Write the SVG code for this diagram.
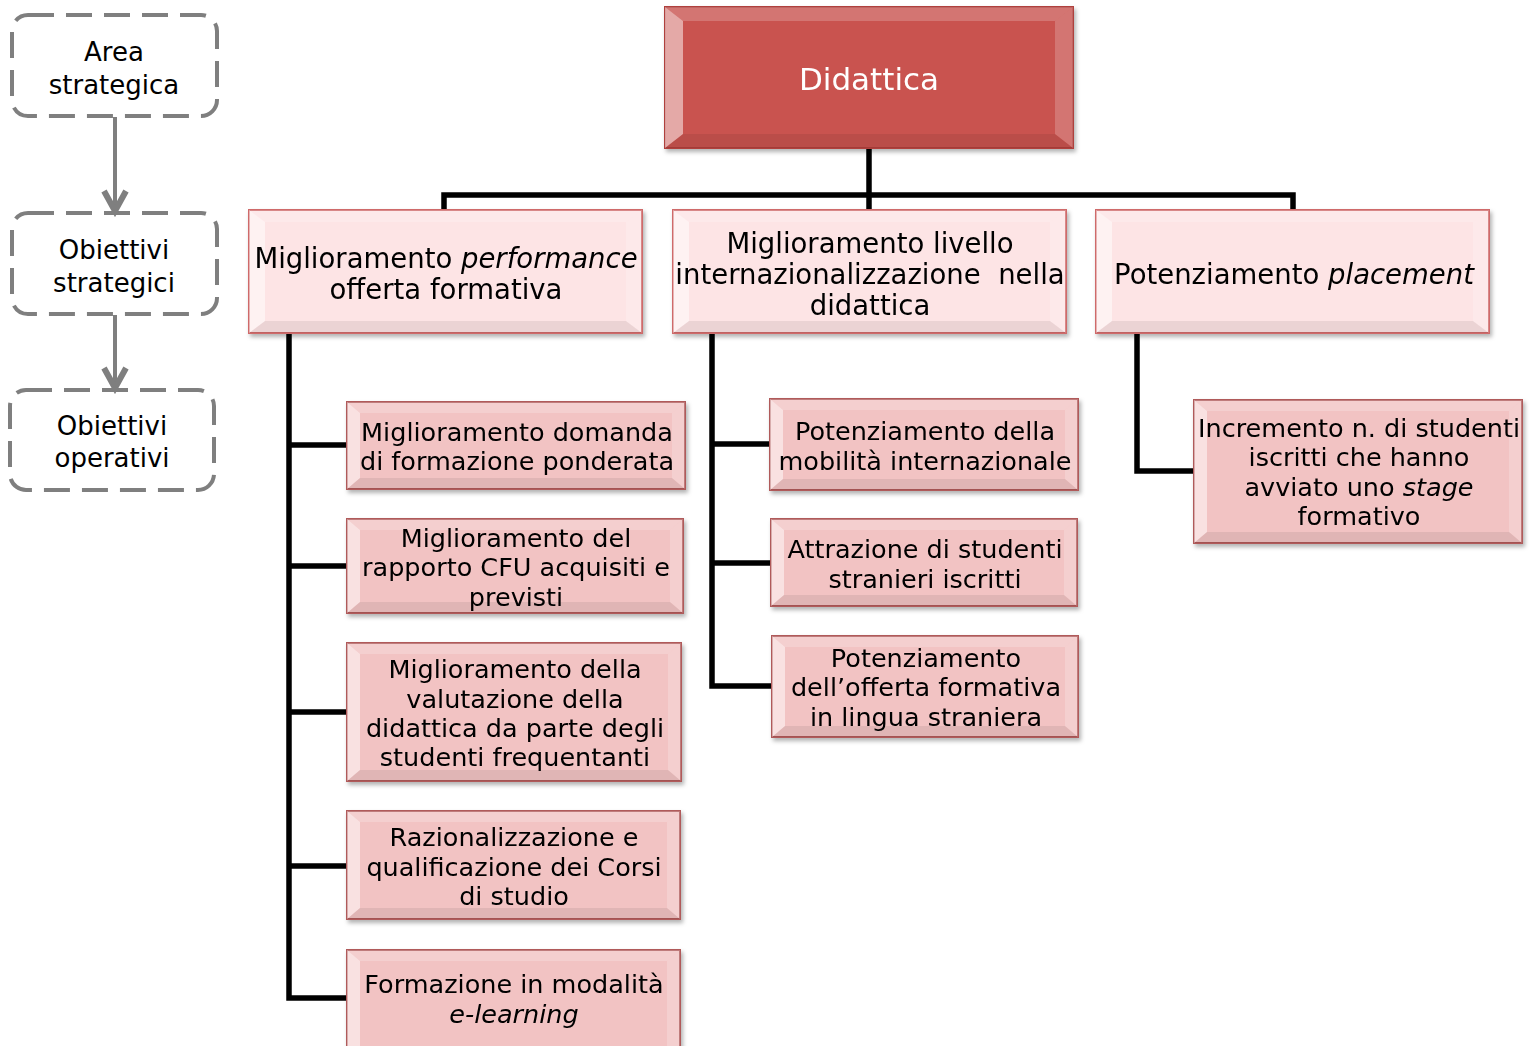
<svg xmlns="http://www.w3.org/2000/svg" width="1531" height="1046" viewBox="0 0 1531 1046">
<defs>
<filter id="sh" x="-5%" y="-5%" width="115%" height="120%">
<feDropShadow dx="2" dy="3" stdDeviation="2" flood-color="#000" flood-opacity="0.3"/>
</filter>
<marker id="chev" viewBox="-26 -14 30 28" markerWidth="30" markerHeight="28" refX="0" refY="0" orient="auto" markerUnits="userSpaceOnUse">
<path d="M-22,-11 L-2,0 L-22,11" fill="none" stroke="#7f7f7f" stroke-width="6" stroke-linejoin="miter"/>
</marker>
</defs>
<style>
.leg{fill:#fff;stroke:#7f7f7f;stroke-width:4;stroke-dasharray:26 12}
.lt{font-family:"DejaVu Sans",sans-serif;font-size:26px;fill:#000;text-anchor:middle}
.t1{font-family:"DejaVu Sans",sans-serif;font-size:31px;fill:#fff;text-anchor:middle}
.t2{font-family:"DejaVu Sans",sans-serif;font-size:27.5px;fill:#000;text-anchor:middle}
.t3{font-family:"DejaVu Sans",sans-serif;font-size:25.5px;fill:#000;text-anchor:middle}
.i{font-style:italic}
.b1{fill:#c9534f;stroke:#b0403d;stroke-width:2}
.b2{fill:#fde4e5;stroke:#cf6b6b;stroke-width:2}
.b3{fill:#f2c3c3;stroke:#b05a5a;stroke-width:2}
.hl{fill:#fff;opacity:0.5}
.ht{fill:#fff;opacity:0.2}
.hr{fill:#fff;opacity:0.2}
.hb{fill:#000;opacity:0.07}
.con{fill:none;stroke:#000;stroke-width:5.5;stroke-linejoin:miter}
.arr{stroke:#7f7f7f;stroke-width:4;fill:none}
</style>
<rect width="1531" height="1046" fill="#fff"/>

<g id="legend">
<g id="leg-area"><rect class="leg" x="12" y="15" width="205" height="101" rx="16"/><text class="lt" x="114" y="61">Area</text><text class="lt" x="114" y="94">strategica</text></g>
<g id="leg-strat"><rect class="leg" x="12" y="213" width="205" height="101" rx="16"/><text class="lt" x="114" y="259">Obiettivi</text><text class="lt" x="114" y="292">strategici</text></g>
<g id="leg-oper"><rect class="leg" x="10" y="390" width="204" height="100" rx="16"/><text class="lt" x="112" y="435">Obiettivi</text><text class="lt" x="112" y="467">operativi</text></g>
<line class="arr" x1="115" y1="117" x2="115" y2="213" marker-end="url(#chev)"/>
<line class="arr" x1="115" y1="315" x2="115" y2="390" marker-end="url(#chev)"/>
</g>

<g id="connectors">
<path class="con" d="M869,148 V210 M444,210 V195 H1293 V210"/>
<path class="con" d="M289,334 V998 H347 M289,445 H347 M289,566 H347 M289,712 H347 M289,866 H347"/>
<path class="con" d="M712,334 V686 H772 M712,444 H770 M712,563 H771"/>
<path class="con" d="M1137,334 V471 H1194"/>
</g>

<g id="n-didattica" filter="url(#sh)">
<rect class="b1" x="665" y="7" width="408" height="141"/>
<polygon class="ht" points="665,7 1073,7 1055,21 683,21"/>
<polygon class="hl" points="665,7 683,21 683,134 665,148"/>
<polygon class="hr" points="1073,7 1073,148 1055,134 1055,21"/>
<polygon class="hb" points="665,148 683,134 1055,134 1073,148"/>
<text class="t1" x="869" y="90">Didattica</text>
</g>

<g id="n-perf" filter="url(#sh)">
<rect class="b2" x="249" y="210" width="393" height="123"/>
<polygon class="ht" points="249,210 642,210 626,222 265,222"/>
<polygon class="hl" points="249,210 265,222 265,321 249,333"/>
<polygon class="hr" points="642,210 642,333 626,321 626,222"/>
<polygon class="hb" points="249,333 265,321 626,321 642,333"/>
<text class="t2" x="446" y="268">Miglioramento <tspan class="i">performance</tspan></text>
<text class="t2" x="446" y="299">offerta formativa</text>
</g>

<g id="n-intern" filter="url(#sh)">
<rect class="b2" x="673" y="210" width="393" height="123"/>
<polygon class="ht" points="673,210 1066,210 1050,222 689,222"/>
<polygon class="hl" points="673,210 689,222 689,321 673,333"/>
<polygon class="hr" points="1066,210 1066,333 1050,321 1050,222"/>
<polygon class="hb" points="673,333 689,321 1050,321 1066,333"/>
<text class="t2" x="870" y="253">Miglioramento livello</text>
<text class="t2" x="870" y="284" xml:space="preserve">internazionalizzazione  nella</text>
<text class="t2" x="870" y="315">didattica</text>
</g>

<g id="n-placement" filter="url(#sh)">
<rect class="b2" x="1096" y="210" width="393" height="123"/>
<polygon class="ht" points="1096,210 1489,210 1473,222 1112,222"/>
<polygon class="hl" points="1096,210 1112,222 1112,321 1096,333"/>
<polygon class="hr" points="1489,210 1489,333 1473,321 1473,222"/>
<polygon class="hb" points="1096,333 1112,321 1473,321 1489,333"/>
<text class="t2" x="1294" y="284">Potenziamento <tspan class="i">placement</tspan></text>
</g>

<g id="n-a1" filter="url(#sh)">
<rect class="b3" x="347" y="402" width="338" height="87"/>
<polygon class="ht" points="347,402 685,402 672,413 360,413"/>
<polygon class="hl" points="347,402 360,413 360,478 347,489"/>
<polygon class="hr" points="685,402 685,489 672,478 672,413"/>
<polygon class="hb" points="347,489 360,478 672,478 685,489"/>
<text class="t3" x="517" y="441">Miglioramento domanda</text>
<text class="t3" x="517" y="470">di formazione ponderata</text>
</g>

<g id="n-a2" filter="url(#sh)">
<rect class="b3" x="347" y="519" width="336" height="94"/>
<polygon class="ht" points="347,519 683,519 670,530 360,530"/>
<polygon class="hl" points="347,519 360,530 360,602 347,613"/>
<polygon class="hr" points="683,519 683,613 670,602 670,530"/>
<polygon class="hb" points="347,613 360,602 670,602 683,613"/>
<text class="t3" x="516" y="547">Miglioramento del</text>
<text class="t3" x="516" y="576">rapporto CFU acquisiti e</text>
<text class="t3" x="516" y="606">previsti</text>
</g>

<g id="n-a3" filter="url(#sh)">
<rect class="b3" x="347" y="643" width="334" height="138"/>
<polygon class="ht" points="347,643 681,643 668,654 360,654"/>
<polygon class="hl" points="347,643 360,654 360,770 347,781"/>
<polygon class="hr" points="681,643 681,781 668,770 668,654"/>
<polygon class="hb" points="347,781 360,770 668,770 681,781"/>
<text class="t3" x="515" y="678">Miglioramento della</text>
<text class="t3" x="515" y="708">valutazione della</text>
<text class="t3" x="515" y="737">didattica da parte degli</text>
<text class="t3" x="515" y="766">studenti frequentanti</text>
</g>

<g id="n-a4" filter="url(#sh)">
<rect class="b3" x="347" y="811" width="333" height="108"/>
<polygon class="ht" points="347,811 680,811 667,822 360,822"/>
<polygon class="hl" points="347,811 360,822 360,908 347,919"/>
<polygon class="hr" points="680,811 680,919 667,908 667,822"/>
<polygon class="hb" points="347,919 360,908 667,908 680,919"/>
<text class="t3" x="514" y="846">Razionalizzazione e</text>
<text class="t3" x="514" y="876">qualificazione dei Corsi</text>
<text class="t3" x="514" y="905">di studio</text>
</g>

<g id="n-a5" filter="url(#sh)">
<rect class="b3" x="347" y="950" width="333" height="108"/>
<polygon class="ht" points="347,950 680,950 667,961 360,961"/>
<polygon class="hl" points="347,950 360,961 360,1047 347,1058"/>
<polygon class="hr" points="680,950 680,1058 667,1047 667,961"/>
<text class="t3" x="514" y="993">Formazione in modalità</text>
<text class="t3 i" x="514" y="1023">e-learning</text>
</g>

<g id="n-b1" filter="url(#sh)">
<rect class="b3" x="770" y="399" width="308" height="91"/>
<polygon class="ht" points="770,399 1078,399 1065,410 783,410"/>
<polygon class="hl" points="770,399 783,410 783,479 770,490"/>
<polygon class="hr" points="1078,399 1078,490 1065,479 1065,410"/>
<polygon class="hb" points="770,490 783,479 1065,479 1078,490"/>
<text class="t3" x="925" y="440">Potenziamento della</text>
<text class="t3" x="925" y="470">mobilità internazionale</text>
</g>

<g id="n-b2" filter="url(#sh)">
<rect class="b3" x="771" y="519" width="306" height="87"/>
<polygon class="ht" points="771,519 1077,519 1064,530 784,530"/>
<polygon class="hl" points="771,519 784,530 784,595 771,606"/>
<polygon class="hr" points="1077,519 1077,606 1064,595 1064,530"/>
<polygon class="hb" points="771,606 784,595 1064,595 1077,606"/>
<text class="t3" x="925" y="558">Attrazione di studenti</text>
<text class="t3" x="925" y="588">stranieri iscritti</text>
</g>

<g id="n-b3" filter="url(#sh)">
<rect class="b3" x="772" y="636" width="306" height="101"/>
<polygon class="ht" points="772,636 1078,636 1065,647 785,647"/>
<polygon class="hl" points="772,636 785,647 785,726 772,737"/>
<polygon class="hr" points="1078,636 1078,737 1065,726 1065,647"/>
<polygon class="hb" points="772,737 785,726 1065,726 1078,737"/>
<text class="t3" x="926" y="667">Potenziamento</text>
<text class="t3" x="926" y="696">dell’offerta formativa</text>
<text class="t3" x="926" y="726">in lingua straniera</text>
</g>

<g id="n-c1" filter="url(#sh)">
<rect class="b3" x="1194" y="400" width="328" height="143"/>
<polygon class="ht" points="1194,400 1522,400 1509,411 1207,411"/>
<polygon class="hl" points="1194,400 1207,411 1207,532 1194,543"/>
<polygon class="hr" points="1522,400 1522,543 1509,532 1509,411"/>
<polygon class="hb" points="1194,543 1207,532 1509,532 1522,543"/>
<text class="t3" x="1359" y="437">Incremento n. di studenti</text>
<text class="t3" x="1359" y="466">iscritti che hanno</text>
<text class="t3" x="1359" y="496">avviato uno <tspan class="i">stage</tspan></text>
<text class="t3" x="1359" y="525">formativo</text>
</g>
</svg>
